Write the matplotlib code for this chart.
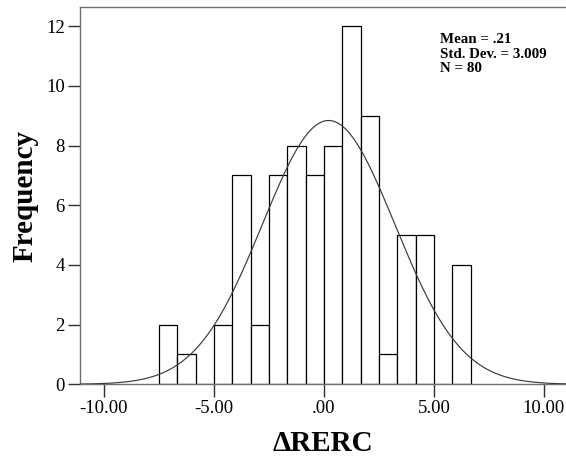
import matplotlib

matplotlib.use("Agg")
import matplotlib.pyplot as plt
import numpy as np

plt.rcParams.update(
    {
        "font.family": ["Liberation Serif", "DejaVu Serif"],
        "font.size": 13.5,
        "axes.linewidth": 1.0,
        "axes.edgecolor": "#707070",
    }
)

# histogram of delta RERC, 80 cases
bin_start = -7.5
bin_width = 0.8333
counts = [2, 1, 0, 2, 7, 2, 7, 8, 7, 8, 12, 9, 1, 5, 5, 0, 4]

mean = 0.21
std_dev = 3.009
n_cases = 80

x_ticks = [-10, -5, 0, 5, 10]
x_tick_labels = ["-10.00", "-5.00", ".00", "5.00", "10.00"]
y_ticks = [0, 2, 4, 6, 8, 10, 12]

fig = plt.figure(figsize=(5.66, 4.63), dpi=100)
ax = fig.add_axes([80 / 566, 1 - 384.3 / 463, 486 / 566, 377 / 463])

lefts = bin_start + bin_width * np.arange(len(counts))
ax.bar(lefts, counts, width=bin_width, align="edge", facecolor="white",
       edgecolor="black", linewidth=0.9, zorder=2)

# fitted normal curve scaled to counts
xs = np.linspace(-11.2, 11.2, 400)
pdf = np.exp(-0.5 * ((xs - mean) / std_dev) ** 2) / (std_dev * np.sqrt(2 * np.pi))
ax.plot(xs, n_cases * bin_width * pdf, color="#3a3a3a", linewidth=0.85, zorder=3)

ax.set_xlim(-11.09, 11.0)
ax.set_ylim(0, 12.63)
ax.set_xticks(x_ticks)
ax.set_xticklabels(x_tick_labels)
ax.set_yticks(y_ticks)
ax.tick_params(axis="both", length=12.5 * 0.72, width=1.0, color="#303030", pad=2)
ax.spines["right"].set_visible(False)

ax.set_xlabel("\u0394RERC", fontsize=21, fontweight="bold", labelpad=10)
ax.set_ylabel("Frequency", fontsize=21, fontweight="bold", labelpad=5)

ax.text(440 / 566, 1 - 33 / 463,
        f"Mean = .21\nStd. Dev. = {std_dev:.3f}\nN = {n_cases}",
        transform=fig.transFigure, fontsize=10.8, fontweight="bold",
        va="top", ha="left", linespacing=1.15)

fig.savefig("out.png", dpi=100)
